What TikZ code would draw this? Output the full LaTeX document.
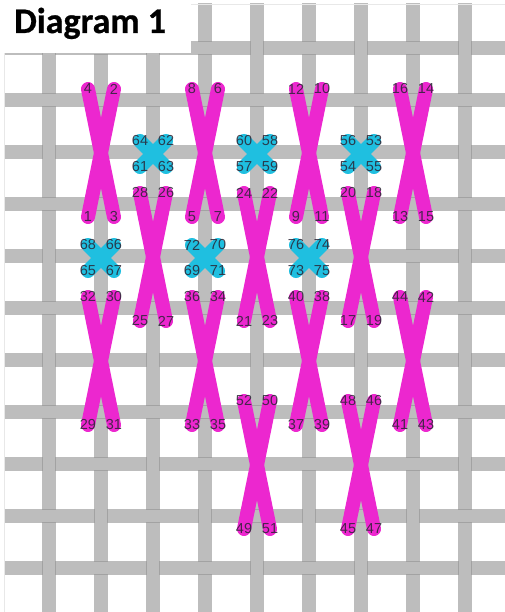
\documentclass[tikz,border=0pt]{standalone}
\usepackage{fontspec}
\setmainfont{Liberation Sans}
\newfontfamily\titlefont[BoldFeatures={FakeBold=0.7}]{Carlito}
\definecolor{threadc}{HTML}{BDBDBD}
\definecolor{threadedge}{HTML}{A2A2A2}
\definecolor{magentac}{HTML}{EC27CF}
\definecolor{cyanc}{HTML}{1FBFE0}
\definecolor{labelc}{HTML}{2A2434}
\tikzset{
  thread/.style={threadc,line width=13.5pt},
  edgeline/.style={threadedge,line width=1.2pt},
  bigstitch/.style={magentac,line width=14pt,line cap=round},
  smallstitch/.style={cyanc,line width=14pt,line cap=round},
  numlabel/.style={text=labelc,text opacity=.85,font=\fontsize{14.5}{14.5}\selectfont,inner sep=0pt},
  titlebox/.style={fill=white,draw=none},
}
% \stitchx{style}{cx}{top}{bottom}{half}{topleft}{topright}{botleft}{botright}
\newcommand{\stitchx}[9]{%
  \coordinate (p#6) at (#2-#5,#3);
  \coordinate (p#7) at (#2+#5,#3);
  \coordinate (p#8) at (#2-#5,#4);
  \coordinate (p#9) at (#2+#5,#4);
  \draw[#1] (p#6) -- (p#9);
  \draw[#1] (p#7) -- (p#8);
  \node[numlabel] (n#6) at (p#6) {#6};
  \node[numlabel] (n#7) at (p#7) {#7};
  \node[numlabel] (n#8) at (p#8) {#8};
  \node[numlabel] (n#9) at (p#9) {#9};
}
\begin{document}
\begin{tikzpicture}[x=1pt,y=-1pt]
\useasboundingbox (0,0) rectangle (505,612);
\fill[white] (0,0) rectangle (505,612);
\begin{scope}
\clip (4,4) rectangle (505,612);
\foreach \x in {49,101,...,465} \draw[thread] (\x,0) -- (\x,612);
\foreach \y in {48,100,...,568} \draw[thread] (0,\y) -- (505,\y);
% crossings where the vertical thread lies on top
\foreach \y/\cols in {48/{49,153,257,361,465},
                      152/{49,153,257,361,465},
                      256/{49,153,257,361,465},
                      360/{49,153,257,361,465},
                      464/{49,153,257,361,465},
                      516/{101,205,309,413},
                      568/{49,153,257,361,465}}{
  \foreach \x in \cols {
    \fill[threadc] (\x-6.75,\y-7.5) rectangle (\x+6.75,\y+7.5);
    \draw[edgeline] (\x-6.75,\y-6.75) -- (\x-6.75,\y+6.75);
    \draw[edgeline] (\x+6.75,\y-6.75) -- (\x+6.75,\y+6.75);
  }
}
% crossings where the horizontal thread lies on top
\foreach \y/\cols in {48/{101,205,309,413},
                      100/{49,101,153,205,257,309,361,413,465},
                      204/{49,101,153,205,257,309,361,413,465},
                      256/{413},
                      308/{49,101,153,205,257,309,361,413,465},
                      412/{49,101,153,205,257,309,361,413,465},
                      464/{101,205,309,413},
                      516/{49,153,257,361,465},
                      568/{101,205,309,413}}{
  \foreach \x in \cols {
    \draw[edgeline] (\x-6.75,\y-6.75) -- (\x+6.75,\y-6.75);
    \draw[edgeline] (\x-6.75,\y+6.75) -- (\x+6.75,\y+6.75);
  }
}
\end{scope}
\draw[threadc!35,line width=.6pt] (4,612) -- (4,4) -- (505,4);
% title
\fill[titlebox] (0,0) rectangle (191,53);
\node[anchor=base west,inner sep=0pt,font=\titlefont\bfseries\fontsize{36}{36}\selectfont] (title) at (14,33) {Diagram 1};
% small stitches
\stitchx{smallstitch}{153}{141}{167}{13}{64}{62}{61}{63}
\stitchx{smallstitch}{257}{141}{167}{13}{60}{58}{57}{59}
\stitchx{smallstitch}{361}{141}{167}{13}{56}{53}{54}{55}
\stitchx{smallstitch}{101}{245}{271}{13}{68}{66}{65}{67}
\stitchx{smallstitch}{205}{245}{271}{13}{72}{70}{69}{71}
\stitchx{smallstitch}{309}{245}{271}{13}{76}{74}{73}{75}
% large stitches
\stitchx{bigstitch}{101}{89}{217}{13}{4}{2}{1}{3}
\stitchx{bigstitch}{205}{89}{217}{13}{8}{6}{5}{7}
\stitchx{bigstitch}{309}{89}{217}{13}{12}{10}{9}{11}
\stitchx{bigstitch}{413}{89}{217}{13}{16}{14}{13}{15}
\stitchx{bigstitch}{153}{193}{321}{13}{28}{26}{25}{27}
\stitchx{bigstitch}{257}{193}{321}{13}{24}{22}{21}{23}
\stitchx{bigstitch}{361}{193}{321}{13}{20}{18}{17}{19}
\stitchx{bigstitch}{101}{297}{425}{13}{32}{30}{29}{31}
\stitchx{bigstitch}{205}{297}{425}{13}{36}{34}{33}{35}
\stitchx{bigstitch}{309}{297}{425}{13}{40}{38}{37}{39}
\stitchx{bigstitch}{413}{297}{425}{13}{44}{42}{41}{43}
\stitchx{bigstitch}{257}{401}{529}{13}{52}{50}{49}{51}
\stitchx{bigstitch}{361}{401}{529}{13}{48}{46}{45}{47}
\end{tikzpicture}
\end{document}
